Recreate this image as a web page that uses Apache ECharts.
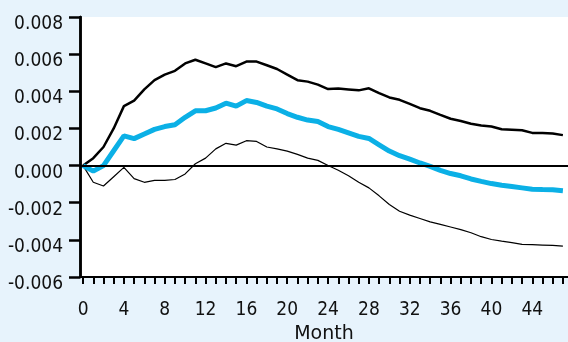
<!DOCTYPE html>
<html>
<head>
<meta charset="utf-8">
<style>
  html, body { margin: 0; padding: 0; background: #e7f3fc; }
  #chart { width: 568px; height: 342px; }
</style>
<script src="https://cdn.jsdelivr.net/npm/echarts@6/dist/echarts.min.js"></script>
</head>
<body>
<div id="chart"></div>
<script>
// Months after the shock
const months = Array.from({ length: 48 }, (_, i) => i);

// Upper band of the response
const upper = [
  0, 0.0004, 0.0010, 0.0020, 0.0032, 0.0035, 0.0041, 0.0046, 0.0049, 0.0051,
  0.0055, 0.0057, 0.0055, 0.0053, 0.0055, 0.00535, 0.0056, 0.0056, 0.0054, 0.0052,
  0.0049, 0.0046, 0.00452, 0.00436, 0.00412, 0.00415, 0.0041, 0.00405, 0.00416, 0.0039,
  0.00367, 0.00354, 0.00332, 0.00309, 0.00295, 0.00273, 0.00252, 0.0024, 0.00225, 0.00216,
  0.0021, 0.00196, 0.00193, 0.0019, 0.00176, 0.00176, 0.00173, 0.00164
];

// Point estimate of the response
const estimate = [
  0, -0.0003, 0.0000, 0.0008, 0.0016, 0.00145, 0.0017, 0.00195, 0.0021, 0.0022,
  0.0026, 0.00295, 0.00295, 0.0031, 0.00336, 0.0032, 0.0035, 0.0034, 0.0032, 0.00305,
  0.0028, 0.0026, 0.00245, 0.00237, 0.0021, 0.00195, 0.00176, 0.00157, 0.00146, 0.00112,
  0.00078, 0.00053, 0.00035, 0.00014, -0.00004, -0.00026, -0.00043, -0.00055, -0.00072, -0.00085,
  -0.00097, -0.00106, -0.00113, -0.0012, -0.00127, -0.00129, -0.0013, -0.00135
];

// Lower band of the response
const lower = [
  0, -0.0009, -0.0011, -0.0006, -0.0001, -0.0007, -0.0009, -0.0008, -0.0008, -0.00075,
  -0.00045, 0.0001, 0.0004, 0.0009, 0.0012, 0.0011, 0.00134, 0.0013, 0.0010, 0.0009,
  0.00078, 0.0006, 0.0004, 0.00028, 0.0000, -0.00025, -0.00055, -0.0009, -0.0012, -0.00163,
  -0.0021, -0.00246, -0.00267, -0.00285, -0.00303, -0.00317, -0.00331, -0.00345, -0.00362, -0.00383,
  -0.00398, -0.00407, -0.00415, -0.00424, -0.00426, -0.00428, -0.0043, -0.00434
];

// Axis ticks and labels
const xTickValues = months.slice();
const xLabelValues = [0, 4, 8, 12, 16, 20, 24, 28, 32, 36, 40, 44];
const xTitle = 'Month';

const labelFont = '"DejaVu Sans Condensed", "Liberation Sans Narrow", "DejaVu Sans", sans-serif';

const pairs = arr => arr.map((v, i) => [months[i], v]);

const chart = echarts.init(document.getElementById('chart'), null, { renderer: 'canvas' });

chart.setOption({
  backgroundColor: '#e7f3fc',
  animation: false,
  grid: {
    left: 80, right: 0, top: 17, bottom: 65,
    outerBoundsMode: 'none',
    show: true, backgroundColor: '#ffffff', borderWidth: 0
  },
  xAxis: {
    type: 'value',
    min: -0.3,
    max: 47.5,
    name: xTitle,
    nameLocation: 'middle',
    nameGap: 41,
    nameTextStyle: { fontFamily: '"DejaVu Sans", sans-serif', fontSize: 19, color: '#111' },
    splitLine: { show: false },
    axisLine: { onZero: false, lineStyle: { color: '#000', width: 2 } },
    axisTick: {
      show: true, length: 7,
      lineStyle: { color: '#000', width: 2 },
      customValues: xTickValues
    },
    axisLabel: {
      customValues: xLabelValues,
      margin: 24,
      fontFamily: labelFont, fontSize: 19, color: '#111'
    }
  },
  yAxis: [
    {
      // main value axis with labels
      type: 'value',
      min: -0.006,
      max: 0.008,
      interval: 0.002,
      splitLine: { show: false },
      axisLine: { show: true, onZero: false, lineStyle: { color: '#000', width: 2.5 } },
      axisTick: { show: true, length: 11, lineStyle: { color: '#000', width: 2.5 } },
      axisLabel: {
        margin: 17,
        verticalAlign: 'top',
        lineHeight: 14,
        fontFamily: labelFont, fontSize: 19, color: '#111',
        formatter: v => v.toFixed(3)
      }
    },
    {
      // companion axis on the same side carrying the outward tick marks
      type: 'value',
      position: 'left',
      min: -0.006,
      max: 0.008,
      interval: 0.002,
      axisLine: { show: true, onZero: false, lineStyle: { color: '#000', width: 2.5 } },
      axisTick: { show: true, length: 11, lineStyle: { color: '#000', width: 2.5 } },
      splitLine: { lineStyle: { color: 'rgba(0,0,0,0)' } },
      axisLabel: { color: 'rgba(0,0,0,0)' }
    }
  ],
  series: [
    {
      name: 'upper', type: 'line', data: pairs(upper),
      showSymbol: false, lineStyle: { color: '#000', width: 2.5 }, z: 3,
      markLine: {
        silent: true, symbol: 'none', label: { show: false },
        lineStyle: { color: '#000', width: 2, type: 'solid' },
        data: [{ yAxis: 0 }]
      }
    },
    {
      name: 'lower', type: 'line', data: pairs(lower),
      showSymbol: false, lineStyle: { color: '#000', width: 1.2 }, z: 3
    },
    {
      name: 'estimate', type: 'line', data: pairs(estimate),
      showSymbol: false, lineStyle: { color: '#0bb0e6', width: 5 }, z: 4
    }
  ]
});
</script>
</body>
</html>
